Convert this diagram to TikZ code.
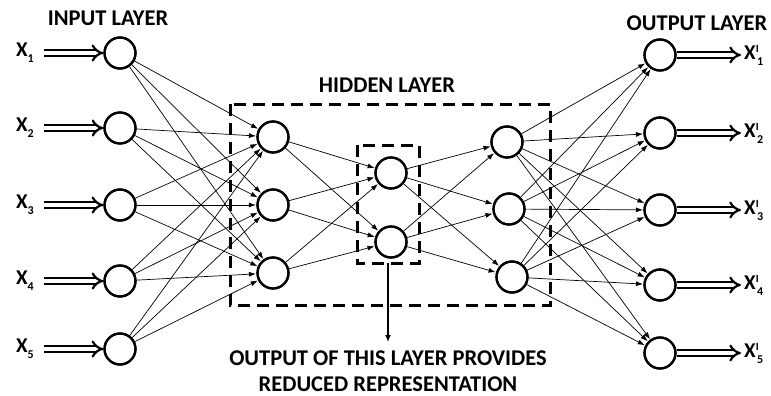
\documentclass[tikz,border=0pt]{standalone}
\usepackage{fontspec}
\setmainfont{Carlito}
\usetikzlibrary{arrows.meta}
\begin{document}
\begin{tikzpicture}[x=1pt,y=-1pt,
  neuron/.style={circle,draw,line width=2.2pt,minimum size=31pt,inner sep=0pt,fill=white},
  conn/.style={line width=0.7pt,-{Latex[length=7pt,width=5pt]},shorten >=0.5pt},
  dbl/.style={double,double distance=3.4pt,line width=2.2pt,-{Implies}},
  lbl/.style={font=\bfseries\fontsize{22.5}{26}\selectfont},
  xlbl/.style={font=\bfseries\fontsize{21}{22}\selectfont,inner sep=0pt},
  boxline/.style={dash pattern=on 12pt off 7pt,line width=3pt}]
\useasboundingbox (0,0) rectangle (771,396);
% dashed boxes
\draw[boxline] (230,104) rectangle (550,305);
\draw[boxline] (357,145) rectangle (419,263);
% input layer
\foreach \i/\y in {1/53,2/128,3/205,4/281,5/349}{
  \node[neuron] (in\i) at (120,\y) {};
  \node[xlbl] (xl\i) at (25,\y) {X\raisebox{-6pt}{\fontsize{12}{12}\selectfont\i}};
  \coordinate (xs\i) at (44,\y);
  \draw[dbl] (xs\i) -- (in\i.west);
}
% hidden 1
\foreach \i/\y in {1/137,2/205,3/273}{
  \node[neuron] (ha\i) at (273,\y) {};
}
% bottleneck
\foreach \i/\y in {1/173,2/242}{
  \node[neuron] (hb\i) at (391,\y) {};
}
% hidden 3
\foreach \i/\x/\y in {1/507/142,2/509/209,3/512/277}{
  \node[neuron] (hc\i) at (\x,\y) {};
}
% output
\foreach \i/\y in {1/55,2/133,3/210,4/285,5/353}{
  \node[neuron] (out\i) at (660,\y) {};
  \node[xlbl,anchor=west] (ol\i) at (744,\y) {X\raisebox{7pt}{\fontsize{11}{11}\selectfont I}\hspace{-1.5pt}\raisebox{-6pt}{\fontsize{12}{12}\selectfont\i}};
  \draw[dbl] (out\i.east) -- ([xshift=-3pt]ol\i.west);
}
% connections
\foreach \i in {1,...,5}{\foreach \j in {1,2,3}{\draw[conn] (in\i) -- (ha\j);}}
\foreach \i in {1,2,3}{\foreach \j in {1,2}{\draw[conn] (ha\i) -- (hb\j);}}
\foreach \i in {1,2}{\foreach \j in {1,2,3}{\draw[conn] (hb\i) -- (hc\j);}}
\foreach \i in {1,2,3}{\foreach \j in {1,...,5}{\draw[conn] (hc\i) -- (out\j);}}
% redraw neuron outlines on top
\foreach \n in {in1,in2,in3,in4,in5,ha1,ha2,ha3,hb1,hb2,hc1,hc2,hc3,out1,out2,out3,out4,out5}{
  \draw[line width=2.2pt] (\n.center) circle (15.5pt);
}
% titles
\node[lbl] (t1) at (108,18) {INPUT LAYER};
\node[lbl] (t2) at (387,85) {HIDDEN LAYER};
\node[lbl] (t3) at (697,23) {OUTPUT LAYER};
% reduced representation
\coordinate (bs) at (388,263);
\node[lbl,align=center,inner sep=0pt] (note) at (388,371) {OUTPUT OF THIS LAYER PROVIDES\\REDUCED REPRESENTATION};
\coordinate (be) at (388,342);
\draw[line width=1.4pt,-{Latex[length=7pt,width=6pt]}] (bs) -- (be);
\end{tikzpicture}
\end{document}
